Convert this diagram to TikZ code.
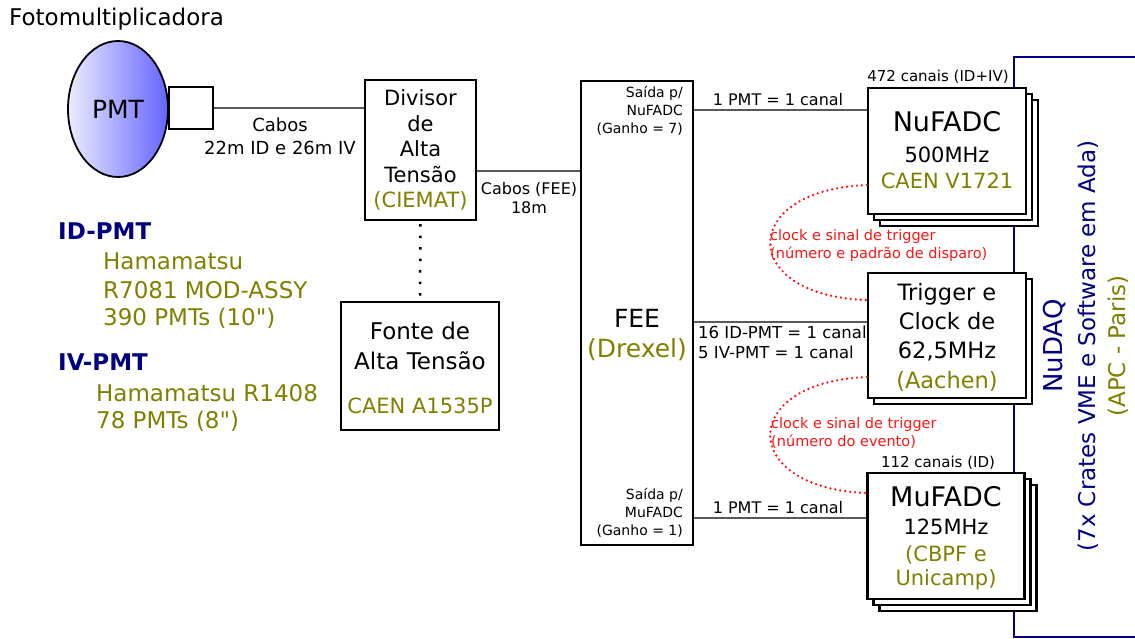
\documentclass[tikz,border=0pt]{standalone}
\usepackage{fontspec}
\setmainfont{DejaVu Sans}
\usetikzlibrary{calc,shapes.geometric}
\definecolor{olv}{RGB}{128,128,0}
\definecolor{nvy}{RGB}{0,0,128}
\definecolor{redc}{RGB}{255,20,20}
\definecolor{pmtlight}{RGB}{236,236,255}
\definecolor{pmtdark}{RGB}{100,100,255}
\newcommand{\sq}{\XeTeXglyph\XeTeXcharglyph"22\relax}
\tikzset{
  box/.style={draw=black, line width=2.2pt, fill=white, inner sep=0pt},
  conn/.style={draw=black!65, line width=1.5pt},
  reddot/.style={draw=redc, line width=2.6pt, line cap=round, dash pattern=on 0pt off 5pt},
  t14/.style={font=\fontsize{14.5}{17}\selectfont, inner sep=0pt},
  t15/.style={font=\fontsize{15}{18}\selectfont, inner sep=0pt},
  t16/.style={font=\fontsize{16}{19}\selectfont, inner sep=0pt},
  t16b/.style={font=\fontsize{16.5}{19}\selectfont, inner sep=0pt},
  t18/.style={font=\fontsize{18}{21}\selectfont, inner sep=0pt},
  t21/.style={font=\fontsize{21}{25}\selectfont, inner sep=0pt},
  t23/.style={font=\fontsize{23}{27}\selectfont, inner sep=0pt},
  t23b/.style={font=\fontsize{23}{27}\selectfont\bfseries, inner sep=0pt},
  t25/.style={font=\fontsize{25}{30}\selectfont, inner sep=0pt},
  t26/.style={font=\fontsize{26}{31}\selectfont, inner sep=0pt},
  t27/.style={font=\fontsize{27}{32}\selectfont, inner sep=0pt},
}
\begin{document}
\begin{tikzpicture}[x=1pt,y=-1pt]
\useasboundingbox (0,0) rectangle (1135,639);

% NuDAQ bracket
\coordinate (dq1) at (1135,57);
\coordinate (dq2) at (1014,637);
\coordinate (dq3) at (1135,637);
\draw[nvy, line width=2pt] (dq1) -| (dq2) -- (dq3);
\node[t26, text=nvy, rotate=90] (nudaq) at (1055,346) {NuDAQ};
\node[t23, text=nvy, rotate=90] (crates) at (1088,346) {(7x Crates VME e Software em Ada)};
\node[t23, text=olv, rotate=90] (apc) at (1118,346) {(APC - Paris)};

% PMT
\node[t23, anchor=west] (foto) at (9,19) {Fotomultiplicadora};
\node[ellipse, draw=black, line width=1.8pt, minimum width=100pt, minimum height=136pt,
      left color=pmtlight, right color=pmtdark, inner sep=0pt,
      font=\fontsize{25}{30}\selectfont] (pmt) at (118,109) {PMT};
\node[box, minimum width=44pt, minimum height=42pt] (sq) at (191,108) {};

% Divisor
\node[box, minimum width=111pt, minimum height=140pt, align=center,
      font=\fontsize{21}{25.5}\selectfont] (div) at (420.5,150)
      {Divisor\\de\\Alta\\Tensão\\\textcolor{olv}{(CIEMAT)}};
\draw[conn] (sq.east) -- (sq.east -| div.west);
\node[t18] (cab1) at (280,125) {Cabos};
\node[t18] (cab2) at (280,148) {22m ID e 26m IV};

% Fonte
\node[box, minimum width=158pt, minimum height=128pt] (fonte) at (420,366) {};
\node[t23] (fonte1) at (420,331) {Fonte de};
\node[t23] (fonte2) at (420,361) {Alta Tensão};
\node[t21, text=olv] (fonte3) at (420,406) {CAEN A1535P};
\draw[line width=2.5pt, dash pattern=on 2.5pt off 9pt, dash phase=-3pt] (div.south) -- (fonte.north);

% FEE
\node[box, minimum width=112pt, minimum height=464pt] (fee) at (637,313) {};
\node[font=\fontsize{14}{18}\selectfont, inner sep=0pt, align=right, anchor=east] (feeA) at (683,111) {Saída p/\\NuFADC\\(Ganho = 7)};
\node[font=\fontsize{14}{18}\selectfont, inner sep=0pt, align=right, anchor=east] (feeB) at (683,513) {Saída p/\\MuFADC\\(Ganho = 1)};
\node[t25] (feeT) at (637,318) {FEE};
\node[t25, text=olv] (feeD) at (637,350) {(Drexel)};
\draw[conn] ([yshift=-21pt]div.east) -- ([yshift=-21pt]div.east -| fee.west);
\node[t16] (cf1) at (529,189) {Cabos (FEE)};
\node[t16] (cf2) at (529,208) {18m};

% NuFADC
\node[box, minimum width=158pt, minimum height=126pt] (nu3) at (959,163) {};
\node[box, minimum width=158pt, minimum height=126pt] (nu2) at (953,157) {};
\node[box, minimum width=158pt, minimum height=126pt] (nu) at (947,151) {};
\node[t15] (nuc) at (938,77) {472 canais (ID+IV)};
\node[t27] (nu1) at (947,122) {NuFADC};
\node[t21] (nu2t) at (947,155) {500MHz};
\node[t21, text=olv] (nu3t) at (947,181) {CAEN V1721};
\draw[conn] ([yshift=41pt]nu.west) -- ([yshift=41pt]nu.west -| fee.east);
\node[t16] (l1) at (778,100) {1 PMT = 1 canal};

% Trigger
\node[box, minimum width=158pt, minimum height=125pt] (trig2) at (953,341.5) {};
\node[box, minimum width=158pt, minimum height=125pt] (trig) at (947,335.5) {};
\node[font=\fontsize{22.5}{29.3}\selectfont, inner sep=0pt, align=center] (trigt) at (947,337)
  {Trigger e\\Clock de\\62,5MHz\\\textcolor{olv}{(Aachen)}};
\draw[conn] ([yshift=13.5pt]trig.west) -- ([yshift=13.5pt]trig.west -| fee.east);
\node[t16b, anchor=west] (l2) at (698,332) {16 ID-PMT = 1 canal};
\node[t16b, anchor=west] (l3) at (698,352) {5 IV-PMT = 1 canal};

% MuFADC
\node[box, minimum width=157pt, minimum height=126pt] (mu3) at (958,548) {};
\node[box, minimum width=157pt, minimum height=126pt] (mu2) at (952,542) {};
\node[box, minimum width=157pt, minimum height=126pt] (mu) at (946,536) {};
\node[t15] (muc) at (938,463) {112 canais (ID)};
\node[t27] (mu1) at (946,497) {MuFADC};
\node[t21] (mu2t) at (946,527) {125MHz};
\node[t21, text=olv] (mu3t) at (946,555) {(CBPF e};
\node[t21, text=olv] (mu4t) at (946,580) {Unicamp)};
\draw[conn] ([yshift=18pt]mu.west) -- ([yshift=18pt]mu.west -| fee.east);
\node[t16] (l4) at (778,508) {1 PMT = 1 canal};

% red clock/trigger curves
\draw[reddot] ([yshift=-34pt]nu.west) .. controls (738,190) and (738,296) .. ([yshift=35.5pt]trig.west);
\draw[reddot] ([yshift=-41.5pt]trig.west) .. controls (738,382) and (738,488) .. ([yshift=43pt]mu.west);
\node[t14, text=redc, anchor=west] (r1) at (770,236) {clock e sinal de trigger};
\node[t14, text=redc, anchor=west] (r2) at (770,254) {(número e padrão de disparo)};
\node[t14, text=redc, anchor=west] (r3) at (771,424) {clock e sinal de trigger};
\node[t14, text=redc, anchor=west] (r4) at (771,442) {(número do evento)};

% left texts
\node[t23b, text=nvy, anchor=west] (idp) at (58,231) {ID-PMT};
\node[t23, text=olv, anchor=west] (id1) at (103,261) {Hamamatsu};
\node[t23, text=olv, anchor=west] (id2) at (103,290) {R7081 MOD-ASSY};
\node[t23, text=olv, anchor=west] (id3) at (103,318) {390 PMTs (10\sq)};
\node[t23b, text=nvy, anchor=west] (ivp) at (58,362) {IV-PMT};
\node[t23, text=olv, anchor=west] (iv1) at (96,393) {Hamamatsu R1408};
\node[t23, text=olv, anchor=west] (iv2) at (96,421) {78 PMTs (8\sq)};
\end{tikzpicture}
\end{document}
